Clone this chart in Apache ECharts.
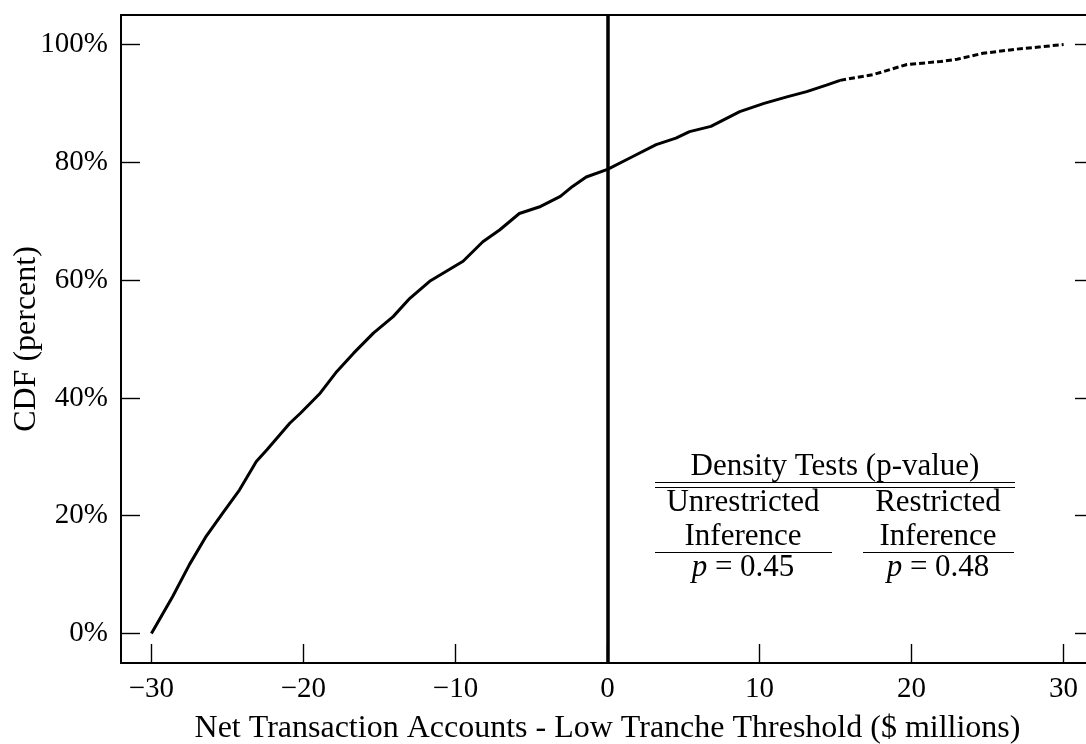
<!DOCTYPE html>
<html><head><meta charset="utf-8">
<style>html,body{margin:0;padding:0;overflow:hidden;background:#fff}#c{width:1100px;height:744px}</style>
<script src="https://cdn.jsdelivr.net/npm/echarts@6/dist/echarts.min.js"></script>
</head><body><div id="c"></div>
<script>
const cdfX = [-30.0,-28.6,-27.5,-26.4,-25.3,-24.2,-23.1,-22.4,-20.9,-20.2,-18.9,-17.8,-16.7,-15.4,-14.1,-13.0,-11.7,-10.6,-9.5,-8.2,-7.1,-5.8,-4.4,-3.1,-2.3,-1.4,0.0,1.6,3.2,4.5,5.4,6.8,8.7,10.3,11.8,13.1,14.4,15.3,17.5,19.7,21.9,23.0,24.7,26.9,28.5,30.0];
const cdfY = [0.0,6.3,11.7,16.5,20.5,24.4,29.2,31.2,35.7,37.4,40.8,44.5,47.6,51.0,53.8,56.9,59.8,61.5,63.2,66.5,68.5,71.3,72.5,74.2,75.9,77.5,78.8,80.9,83.0,84.1,85.2,86.1,88.6,90.0,91.1,92.0,93.1,93.9,94.9,96.6,97.1,97.5,98.5,99.2,99.6,100.0];
const xTicks = [-30,-20,-10,0,10,20,30];
const yTicks = [0,20,40,60,80,100];
const thresholdX = 0;
const sparseFrom = 15.3;
const tableTitle = 'Density Tests (p-value)';
const colHeads = [['Unrestricted','Inference'],['Restricted','Inference']];
const pValues = ['0.45','0.48'];

const FONT = '"Liberation Serif", "DejaVu Serif", serif';
const pts = cdfX.map((x,i)=>[x,cdfY[i]]);
const dense = pts.filter(p=>p[0]<=sparseFrom);
const sparse = pts.filter(p=>p[0]>=sparseFrom);

const chart = echarts.init(document.getElementById('c'), null, {renderer:'canvas'});
const axisText = {color:'#000', fontFamily:FONT, fontSize:29};
const nameText = {color:'#000', fontFamily:FONT, fontSize:32};
const lineStyleAxis = {color:'#000', width:2};
const tickStyle = {color:'#000', width:1.4};

const TF = 31;
const colCenters = [743, 938];
const graphics = [];
function txt(x,y,text){
  graphics.push({type:'text', x:x, y:y, silent:true, style:{text:text, fill:'#000', font:TF+'px '+FONT, align:'center', verticalAlign:'middle'}});
}
function hline(x1,x2,y,w){
  graphics.push({type:'line', silent:true, shape:{x1:x1,y1:y,x2:x2,y2:y}, style:{stroke:'#000', lineWidth:w||1.2}});
}
txt(835, 467, tableTitle);
hline(655,1015,482.5);
hline(655,1015,487.5);
colHeads.forEach((c,i)=>{ txt(colCenters[i],503,c[0]); txt(colCenters[i],537,c[1]); });
hline(655,832,552.5);
hline(863,1014,552.5);
pValues.forEach((v,i)=>{
  graphics.push({type:'text', x:colCenters[i], y:568, silent:true, style:{text:'{i|p} = '+v, fill:'#000', font:TF+'px '+FONT, align:'center', verticalAlign:'middle', rich:{i:{fontStyle:'italic', fontSize:TF, fontFamily:FONT, fill:'#000'}}}});
});

chart.setOption({
  animation:false,
  backgroundColor:'#fff',
  grid:{left:121, right:6, top:15, bottom:81, show:false, outerBoundsMode:'none', containLabel:false},
  xAxis:[{
    type:'value', min:-32, max:32, position:'bottom',
    axisLine:{show:true, onZero:false, lineStyle:lineStyleAxis},
    axisTick:{show:true, inside:true, length:19, lineStyle:tickStyle, customValues:xTicks},
    axisLabel:{show:true, margin:12, customValues:xTicks, formatter:v=> v<0 ? '\u2212'+(-v) : String(v), ...axisText},
    splitLine:{show:false},
    name:'Net Transaction Accounts - Low Tranche Threshold ($ millions)',
    nameLocation:'middle', nameGap:50, nameMoveOverlap:false, nameTextStyle:nameText
  },{
    type:'value', min:-32, max:32, position:'top',
    axisLine:{show:true, onZero:false, lineStyle:lineStyleAxis},
    axisTick:{show:false}, axisLabel:{show:false}, splitLine:{show:false}
  }],
  yAxis:[{
    type:'value', min:-5, max:105, position:'left',
    axisLine:{show:true, onZero:false, lineStyle:lineStyleAxis},
    axisTick:{show:true, inside:true, length:19, lineStyle:tickStyle, customValues:yTicks},
    axisLabel:{show:true, margin:13, customValues:yTicks, formatter:v=>v+'%', ...axisText},
    splitLine:{show:false},
    name:'CDF (percent)', nameLocation:'middle', nameGap:78, nameMoveOverlap:false, nameTextStyle:nameText
  },{
    type:'value', min:-5, max:105, position:'right',
    axisLine:{show:true, onZero:false, lineStyle:lineStyleAxis},
    axisTick:{show:true, inside:true, length:19, lineStyle:tickStyle, customValues:yTicks},
    axisLabel:{show:false}, splitLine:{show:false}
  }],
  series:[{
    type:'line', data:dense, showSymbol:false, symbol:'none', lineStyle:{color:'#000', width:3}, z:3,
    markLine:{silent:true, symbol:['none','none'], label:{show:false}, lineStyle:{color:'#000', width:3.5, type:'solid'}, data:[{xAxis:thresholdX}]}
  },{
    type:'line', data:sparse, showSymbol:false, symbol:'none', lineStyle:{color:'#000', width:3, type:[6,3]}, z:3
  }],
  graphic:graphics
});
</script></body></html>
